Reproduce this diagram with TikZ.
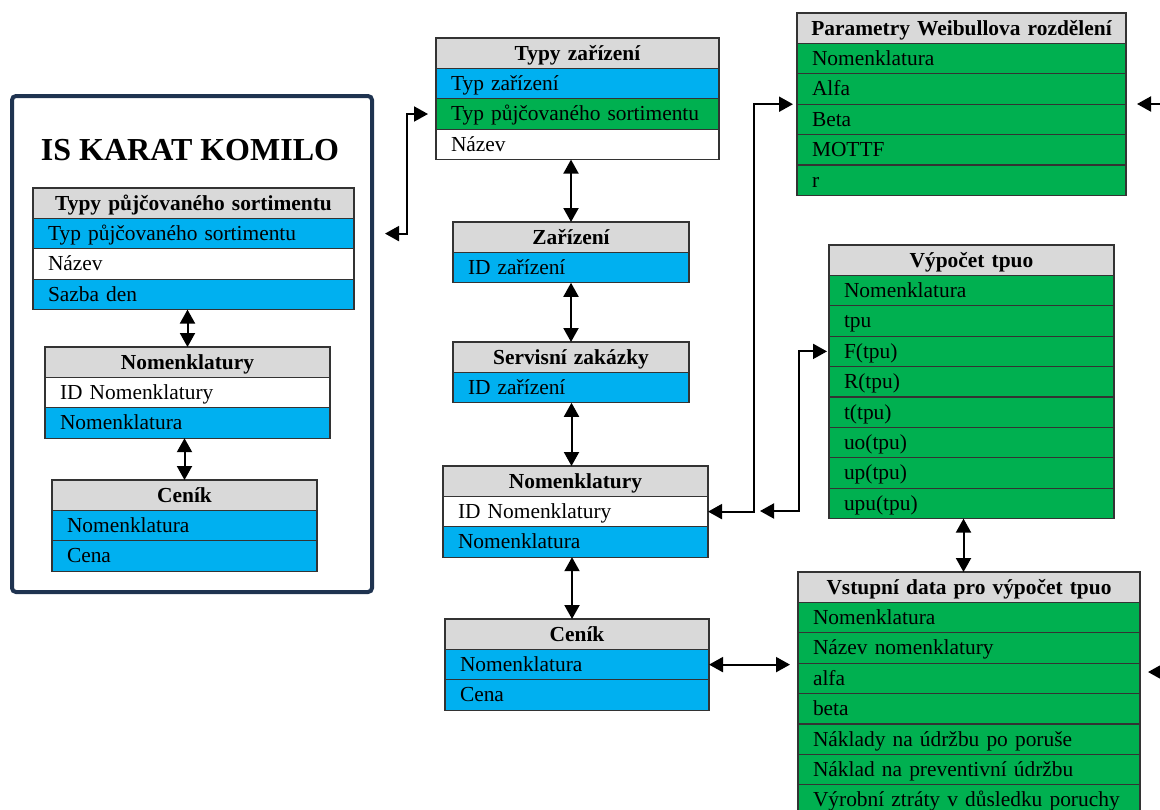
\documentclass[tikz,border=0pt]{standalone}
\usepackage{fontspec}
\setmainfont{Liberation Serif}
\usetikzlibrary{positioning,arrows.meta}

\definecolor{headgray}{HTML}{D9D9D9}
\definecolor{pkblue}{HTML}{00B0F0}
\definecolor{fkgreen}{HTML}{00B050}
\definecolor{framenavy}{HTML}{1F3350}
\newcommand{\cellfont}{\fontsize{10.7}{12}\selectfont}

\tikzset{
  cell/.style={draw=black!80, line width=0.6pt, minimum height=15.2pt,
    inner xsep=7.5pt, inner ysep=0pt, outer sep=0pt, text height=8.5pt,
    text depth=1.6pt, text width=#1, align=left, font=\cellfont},
  head/.style={cell=#1, inner xsep=1pt, fill=headgray, font=\cellfont\bfseries, align=center, anchor=north west},
  pk/.style={cell=#1, fill=pkblue},
  fk/.style={cell=#1, fill=fkgreen},
  attr/.style={cell=#1, fill=white},
  arr/.style={line width=1pt, -{Triangle[length=7pt,width=7.5pt]}},
  darr/.style={line width=1pt, {Triangle[length=7pt,width=7.5pt]}-{Triangle[length=7pt,width=7.5pt]}}
}

\begin{document}
\begin{tikzpicture}[x=0.5pt,y=-0.5pt]
        \useasboundingbox (0,0) rectangle (1160,809);
        % frame
        \node(frame)[draw=framenavy, line width=2pt, rounded corners=2pt, minimum width=180pt, minimum height=248pt] at (192,344) {};
        \node(title) at (190,150) {\fontsize{16}{18}\selectfont\bfseries IS KARAT KOMILO};
        \node(ps)[head=158.5pt] at (33,188) {Typy půjčovaného sortimentu};
        \node(ps1)[pk=145.5pt, below=0pt of ps] {Typ půjčovaného sortimentu};
        \node(ps2)[attr=145.5pt, below=0pt of ps1] {Název};
        \node(ps3)[pk=145.5pt, below=0pt of ps2] {Sazba den};
        \node(nl)[head=140.5pt] at (45,347) {Nomenklatury};
        \node(nl1)[attr=127.5pt, below=0pt of nl] {ID Nomenklatury};
        \node(nl2)[pk=127.5pt, below=0pt of nl1] {Nomenklatura};
        \node(cl)[head=130.5pt] at (52,480) {Ceník};
        \node(cl1)[pk=117.5pt, below=0pt of cl] {Nomenklatura};
        \node(cl2)[pk=117.5pt, below=0pt of cl1] {Cena};
        % middle column
        \node(tz)[head=139.5pt] at (436,38) {Typy zařízení};
        \node(tz1)[pk=126.5pt, below=0pt of tz] {Typ zařízení};
        \node(tz2)[fk=126.5pt, below=0pt of tz1] {Typ půjčovaného sortimentu};
        \node(tz3)[attr=126.5pt, below=0pt of tz2] {Název};
        \node(zr)[head=116pt] at (453,222) {Zařízení};
        \node(zr1)[pk=103pt, below=0pt of zr] {ID zařízení};
        \node(sz)[head=116pt] at (453,342) {Servisní zakázky};
        \node(sz1)[pk=103pt, below=0pt of sz] {ID zařízení};
        \node(nm)[head=130.5pt] at (443,466) {Nomenklatury};
        \node(nm1)[attr=117.5pt, below=0pt of nm] {ID Nomenklatury};
        \node(nm2)[pk=117.5pt, below=0pt of nm1] {Nomenklatura};
        \node(cm)[head=130pt] at (445,619) {Ceník};
        \node(cm1)[pk=117pt, below=0pt of cm] {Nomenklatura};
        \node(cm2)[pk=117pt, below=0pt of cm1] {Cena};
        % right column
        \node(wb)[head=162.5pt] at (797,13) {Parametry Weibullova rozdělení};
        \node(wb1)[fk=149.5pt, below=0pt of wb] {Nomenklatura};
        \node(wb2)[fk=149.5pt, below=0pt of wb1] {Alfa};
        \node(wb3)[fk=149.5pt, below=0pt of wb2] {Beta};
        \node(wb4)[fk=149.5pt, below=0pt of wb3] {MOTTF};
        \node(wb5)[fk=149.5pt, below=0pt of wb4] {r};
        \node(vp)[head=140.5pt] at (829,245) {Výpočet tpuo};
        \node(vp1)[fk=127.5pt, below=0pt of vp] {Nomenklatura};
        \node(vp2)[fk=127.5pt, below=0pt of vp1] {tpu};
        \node(vp3)[fk=127.5pt, below=0pt of vp2] {F(tpu)};
        \node(vp4)[fk=127.5pt, below=0pt of vp3] {R(tpu)};
        \node(vp5)[fk=127.5pt, below=0pt of vp4] {t(tpu)};
        \node(vp6)[fk=127.5pt, below=0pt of vp5] {uo(tpu)};
        \node(vp7)[fk=127.5pt, below=0pt of vp6] {up(tpu)};
        \node(vp8)[fk=127.5pt, below=0pt of vp7] {upu(tpu)};
        \node(vd)[head=169pt] at (798,572) {Vstupní data pro výpočet tpuo};
        \node(vd1)[fk=156pt, below=0pt of vd] {Nomenklatura};
        \node(vd2)[fk=156pt, below=0pt of vd1] {Název nomenklatury};
        \node(vd3)[fk=156pt, below=0pt of vd2] {alfa};
        \node(vd4)[fk=156pt, below=0pt of vd3] {beta};
        \node(vd5)[fk=156pt, below=0pt of vd4] {Náklady na údržbu po poruše};
        \node(vd6)[fk=156pt, below=0pt of vd5] {Náklad na preventivní údržbu};
        \node(vd7)[fk=156pt, below=0pt of vd6] {Výrobní ztráty v důsledku poruchy};
        \coordinate(cfree) at (760,511);
        \coordinate(in1) at (1160,104);
        \coordinate(in2) at (1160,672);
        % connectors
        \draw[darr] (nl.north) -- (nl.north |- ps3.south);
        \draw[darr] (cl.north) -- (cl.north |- nl2.south);
        \draw[darr, shorten <=4pt, shorten >=15.5pt] (tz2.west) -- ++(-29,0) |- (ps1.east);
        \draw[darr] (zr.north) -- (zr.north |- tz3.south);
        \draw[darr] (sz.north) -- (sz.north |- zr1.south);
        \draw[darr] ([xshift=-2pt]nm.north) -- ([xshift=-2pt]nm.north |- sz1.south);
        \draw[darr] ([xshift=-2.5pt]cm.north) -- ([xshift=-2.5pt]cm.north |- nm2.south);
        \draw[darr, shorten >=2pt] (nm1.east) -- ++(46,0) |- (wb2.south west);
        \draw[darr, shorten >=1pt] (cfree) -- ++(39,0) |- (vp3.west);
        \draw[darr] ([xshift=-4pt]vp8.south) -- ([xshift=-4pt]vp8.south |- vd.north);
        \draw[darr, shorten >=4pt] (cm1.east) -- (cm1.east -| vd.west);
        \draw[arr, shorten >=5.5pt] (in1) -- (in1 -| wb2.east);
        \draw[arr, shorten >=4pt] (in2) -- (in2 -| vd3.east);
\end{tikzpicture}
\end{document}
